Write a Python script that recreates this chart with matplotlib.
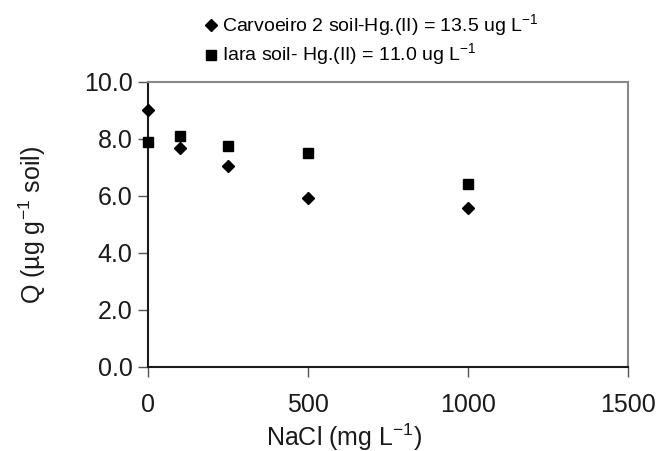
import matplotlib
matplotlib.use("Agg")
import matplotlib.pyplot as plt

plt.rcParams['font.family'] = ['Liberation Sans', 'DejaVu Sans']

# NaCl concentration (mg L-1)
nacl = [0, 100, 250, 500, 1000]
# Q (ug g-1 soil)
carvoeiro = [9.0, 7.68, 7.06, 5.93, 5.58]
iara = [7.88, 8.12, 7.76, 7.52, 6.43]

labels = ["Carvoeiro 2 soil-Hg.(II) = 13.5 ug L$^{\\mathregular{-1}}$",
          "Iara soil- Hg.(II) = 11.0 ug L$^{\\mathregular{-1}}$"]

fig = plt.figure(figsize=(6.57, 4.51), dpi=100)
ax = fig.add_axes([0.2253, 0.1863, 0.7306, 0.6319])

ax.plot(nacl, carvoeiro, linestyle="none", marker="D", markersize=6,
        color="black", label=labels[0], clip_on=False, zorder=5)
ax.plot(nacl, iara, linestyle="none", marker="s", markersize=7,
        color="black", label=labels[1], clip_on=False, zorder=5)

ax.set_xlim(0, 1500)
ax.set_ylim(0, 10)
ax.set_xticks([0, 500, 1000, 1500])
ax.set_yticks([0, 2, 4, 6, 8, 10])
ax.set_yticklabels(["%.1f" % v for v in [0, 2, 4, 6, 8, 10]])

for side in ["top", "right"]:
    ax.spines[side].set_color("#888888")
    ax.spines[side].set_linewidth(1.5)
for side in ["left", "bottom"]:
    ax.spines[side].set_color("#1a1a1a")
    ax.spines[side].set_linewidth(1.5)

ax.tick_params(axis="both", direction="out", length=7, width=1,
               color="#555555", labelsize=18, labelcolor="#1a1a1a")
ax.tick_params(axis="x", pad=12)
ax.tick_params(axis="y", pad=4)

ax.set_xlabel("NaCl (mg L$^{\\mathregular{-1}}$)", fontsize=18,
              color="#1a1a1a")
ax.xaxis.set_label_coords(0.408, -0.19)
ax.set_ylabel("Q (\u00b5g g$^{\\mathregular{-1}}$ soil)", fontsize=18,
              color="#1a1a1a", labelpad=26)

fig.legend(loc="upper left", bbox_to_anchor=(0.285, 1.003), frameon=False,
           fontsize=14, handletextpad=0.1, labelspacing=0.15,
           borderpad=0.2, handlelength=1.0, markerscale=0.95)

fig.savefig("out.png", dpi=100)
